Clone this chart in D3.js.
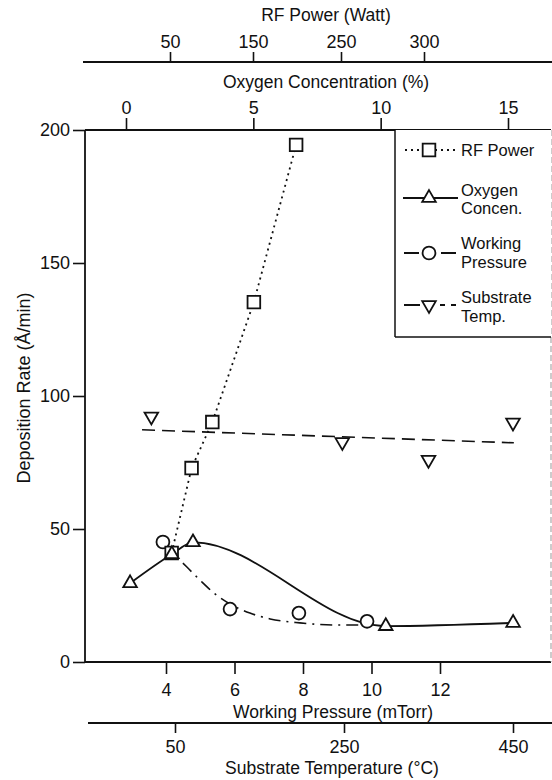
<!DOCTYPE html>
<html>
<head>
<meta charset="utf-8">
<script src="https://cdn.jsdelivr.net/npm/d3@7"></script>
<style>
  html, body { margin: 0; padding: 0; background: #fff; }
  svg text { font-family: "Liberation Sans", Arial, Helvetica, sans-serif; fill: #111; }
</style>
</head>
<body>
<svg id="chart" width="552" height="780"></svg>
<script>
// ---------------- data ----------------
const yTicks = [0, 50, 100, 150, 200];
const rfTicks = [50, 150, 250, 300];
const oxTicks = [0, 5, 10, 15];
const prTicks = [4, 6, 8, 10, 12];
const tempTicks = [50, 250, 450];

// RF Power series (Watt, deposition rate)
const rfPower = [52, 76, 101, 151, 199];
const rfRate  = [41, 72.9, 90.2, 135.3, 194.4];

// Oxygen concentration series (%, rate)
const oxConc = [0.16, 1.8, 2.63, 10.2, 15.2];
const oxRate = [29.6, 40.5, 45, 13.5, 14.7];

// Working pressure series (mTorr, rate)
const prVal  = [3.91, 5.87, 7.88, 9.87];
const prRate = [45.1, 19.9, 18.4, 15.3];
// dash-dot fitted curve through working-pressure data
const prFitX = [3.95, 4.61, 4.99, 5.43, 5.87, 6.45, 7.04, 7.91, 9.08, 9.96];
const prFitY = [44, 35.7, 30.8, 25.6, 21.8, 18.4, 16.2, 14.7, 13.9, 13.9];

// Substrate temperature series (°C, rate)
const tempVal  = [22, 248, 350, 450];
const tempRate = [92.3, 82.7, 76, 90];
// dashed fitted line
const tempFitX = [11, 451];
const tempFitY = [87.3, 82.4];

// ---------------- layout ----------------
const svg = d3.select("#chart");
const L = 85, R = 551, T = 130, B = 662;

const y  = d3.scaleLinear().domain([0, 200]).range([B, T]);
const xR = d3.scaleLinear().domain([50, 150, 250, 300]).range([170, 253, 341, 424]);
const xO = d3.scaleLinear().domain([0, 15]).range([126, 508]);
const xP = d3.scaleLinear().domain([4, 12]).range([166, 440]);
const xT = d3.scaleLinear().domain([50, 450]).range([175, 513]);

const TXT = 17.5, NUM = 18, LEG = 16.5;
const ink = "#111";

function styleAxis(g, fs) {
  g.select(".domain").remove();
  g.selectAll(".tick line").attr("stroke", ink).attr("stroke-width", 1.6);
  g.selectAll(".tick text").attr("font-size", fs).attr("fill", ink)
    .style("font-family", '"Liberation Sans", Arial, sans-serif');
}

// frame
svg.append("line").attr("x1", L).attr("x2", R).attr("y1", T).attr("y2", T)
  .attr("stroke", ink).attr("stroke-width", 1.8);
svg.append("line").attr("x1", L).attr("x2", R).attr("y1", B).attr("y2", B)
  .attr("stroke", ink).attr("stroke-width", 1.8);
svg.append("line").attr("x1", L).attr("x2", L).attr("y1", T).attr("y2", B)
  .attr("stroke", ink).attr("stroke-width", 1.8);
svg.append("line").attr("x1", R).attr("x2", R).attr("y1", T).attr("y2", B)
  .attr("stroke", "#999").attr("stroke-width", 1).attr("stroke-dasharray", "6,3");

// left axis
const gy = svg.append("g").attr("transform", `translate(${L},0)`)
  .call(d3.axisLeft(y).tickValues(yTicks).tickSize(12).tickPadding(3).tickFormat(d3.format("d")));
styleAxis(gy, NUM);
svg.append("text").attr("transform", `translate(24,388) rotate(-90)`)
  .attr("text-anchor", "middle").attr("dy", "0.35em").attr("font-size", 18)
  .text("Deposition Rate (Å/min)");

// top: RF power axis
const rfY = 62;
svg.append("line").attr("x1", 83).attr("x2", 552).attr("y1", rfY).attr("y2", rfY)
  .attr("stroke", ink).attr("stroke-width", 1.8);
const gr = svg.append("g").attr("transform", `translate(0,${rfY})`)
  .call(d3.axisTop(xR).tickValues(rfTicks).tickSize(10).tickPadding(4));
styleAxis(gr, NUM);
svg.append("text").attr("x", 326).attr("y", 21).attr("text-anchor", "middle")
  .attr("font-size", TXT).text("RF Power (Watt)");

// top: oxygen concentration axis (frame top)
const go = svg.append("g").attr("transform", `translate(0,${T})`)
  .call(d3.axisTop(xO).tickValues(oxTicks).tickSize(12).tickPadding(4));
styleAxis(go, NUM);
svg.append("text").attr("x", 326).attr("y", 88).attr("text-anchor", "middle")
  .attr("font-size", TXT).text("Oxygen Concentration (%)");

// bottom: working pressure axis (frame bottom)
const gp = svg.append("g").attr("transform", `translate(0,${B})`)
  .call(d3.axisBottom(xP).tickValues(prTicks).tickSize(12).tickPadding(9));
styleAxis(gp, NUM);
svg.append("text").attr("x", 333).attr("y", 718).attr("text-anchor", "middle")
  .attr("font-size", TXT).text("Working Pressure (mTorr)");

// bottom: substrate temperature axis
const tY = 723;
svg.append("line").attr("x1", 88).attr("x2", 552).attr("y1", tY).attr("y2", tY)
  .attr("stroke", ink).attr("stroke-width", 1.8);
const gt = svg.append("g").attr("transform", `translate(0,${tY})`)
  .call(d3.axisBottom(xT).tickValues(tempTicks).tickSize(10).tickPadding(7));
styleAxis(gt, NUM);
svg.append("text").attr("x", 332).attr("y", 774).attr("text-anchor", "middle")
  .attr("font-size", TXT).text("Substrate Temperature (°C)");

// ---------------- series lines ----------------
const plot = svg.append("g");
const rfPts = rfPower.map((p, i) => [xR(p), y(rfRate[i])]);
const oxPts = oxConc.map((c, i) => [xO(c), y(oxRate[i])]);
const prPts = prVal.map((p, i) => [xP(p), y(prRate[i])]);
const tPts  = tempVal.map((t, i) => [xT(t), y(tempRate[i])]);
const prFit = prFitX.map((p, i) => [xP(p), y(prFitY[i])]);
const tFit  = tempFitX.map((t, i) => [xT(t), y(tempFitY[i])]);

plot.append("path").attr("d", d3.line()(rfPts)).attr("fill", "none")
  .attr("stroke", ink).attr("stroke-width", 1.8).attr("stroke-dasharray", "2,4");
plot.append("path").attr("d", d3.line().curve(d3.curveMonotoneX)(oxPts)).attr("fill", "none")
  .attr("stroke", ink).attr("stroke-width", 1.8);
plot.append("path").attr("d", d3.line().curve(d3.curveMonotoneX)(prFit)).attr("fill", "none")
  .attr("stroke", ink).attr("stroke-width", 1.6).attr("stroke-dasharray", "12,6,2,6");
plot.append("path").attr("d", d3.line()(tFit)).attr("fill", "none")
  .attr("stroke", ink).attr("stroke-width", 1.6).attr("stroke-dasharray", "13,7");

// ---------------- markers ----------------
const symSquare = d3.symbol(d3.symbolSquare, 160)();
const symTri = d3.symbol(d3.symbolTriangle, 80)();
const symCirc = d3.symbol(d3.symbolCircle, 130)();

function marker(g, sym, x, yy, rot) {
  g.append("path").attr("d", sym)
    .attr("transform", `translate(${x},${yy})` + (rot ? " rotate(180)" : ""))
    .attr("fill", "#fff").attr("stroke", ink).attr("stroke-width", 1.8);
}
tPts.forEach(p => marker(plot, symTri, p[0], p[1], true));
prPts.forEach(p => marker(plot, symCirc, p[0], p[1]));
rfPts.forEach(p => marker(plot, symSquare, p[0], p[1]));
oxPts.forEach(p => marker(plot, symTri, p[0], p[1]));

// ---------------- legend ----------------
const lg = svg.append("g");
const lx0 = 395, lyB = 337;
lg.append("rect").attr("x", lx0).attr("y", T).attr("width", R - lx0).attr("height", lyB - T)
  .attr("fill", "#fff").attr("stroke", "none");
lg.append("line").attr("x1", lx0).attr("x2", lx0).attr("y1", T).attr("y2", lyB)
  .attr("stroke", ink).attr("stroke-width", 1.5);
lg.append("line").attr("x1", lx0).attr("x2", R).attr("y1", lyB).attr("y2", lyB)
  .attr("stroke", ink).attr("stroke-width", 1.5);

const legendItems = [
  { lines: ["RF Power"], sy: 150, ty: [156], sym: symSquare, rot: false, dash: "2,4", x1: 405, x2: 457 },
  { lines: ["Oxygen", "Concen."], sy: 198, ty: [195.5, 214], sym: symTri, rot: false, dash: null, x1: 403, x2: 458 },
  { lines: ["Working", "Pressure"], sy: 253, ty: [249, 267.5], sym: symCirc, rot: false, dash: "15,22", x1: 404, x2: 456 },
  { lines: ["Substrate", "Temp."], sy: 305, ty: [303, 322], sym: symTri, rot: true, dash: "16,20,5,6,5", x1: 404, x2: 456 }
];
legendItems.forEach(it => {
  const ln = lg.append("line").attr("x1", it.x1).attr("x2", it.x2).attr("y1", it.sy).attr("y2", it.sy)
    .attr("stroke", ink).attr("stroke-width", 1.8);
  if (it.dash) ln.attr("stroke-dasharray", it.dash);
  marker(lg, it.sym, 429, it.sy, it.rot);
  it.lines.forEach((t, i) => {
    lg.append("text").attr("x", 461).attr("y", it.ty[i]).attr("font-size", LEG).text(t);
  });
});
</script>
</body>
</html>
